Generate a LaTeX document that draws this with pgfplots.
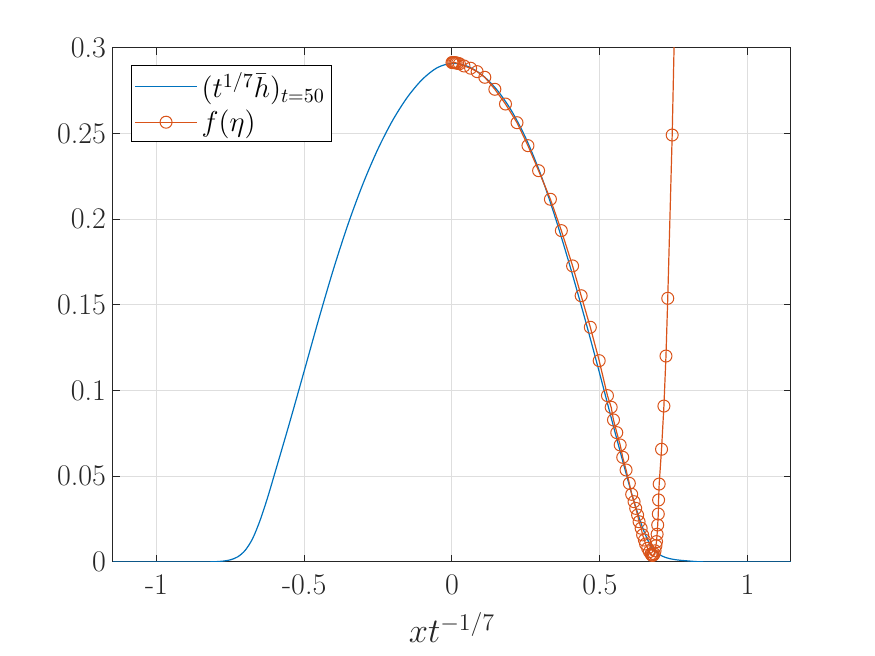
\documentclass[border=0pt]{standalone}
\usepackage{pgfplots}
\pgfplotsset{compat=1.18}
\definecolor{mblue}{rgb}{0,0.447,0.741}
\definecolor{morange}{rgb}{0.85,0.325,0.098}
\definecolor{axgray}{rgb}{0.15,0.15,0.15}
\begin{document}
\begin{tikzpicture}
\begin{axis}[
  scale only axis, width=339pt, height=257pt,
  xmin=-1.147, xmax=1.147, ymin=0, ymax=0.3,
  xtick={-1,-0.5,0,0.5,1}, xticklabels={-1,-0.5,0,0.5,1},
  ytick={0,0.05,0.1,0.15,0.2,0.25,0.3}, yticklabels={0,0.05,0.1,0.15,0.2,0.25,0.3},
  tick align=inside, major tick length=3.3pt,
  axis line style={axgray, line width=0.5pt},
  tick style={axgray, line width=0.5pt},
  grid=major, grid style={line width=0.5pt, draw=black!13},
  tick label style={font=\fontsize{15}{18}\selectfont, text=axgray},
  xticklabel style={yshift=-3pt},
  xlabel={$xt^{-1/7}$},
  xlabel style={at={(axis description cs:0.5,0)}, anchor=base, yshift=-40.5pt, font=\fontsize{16.5}{20}\selectfont, text=axgray},
  legend cell align=left,
  legend style={at={(rel axis cs:0.0265,0.967)}, anchor=north west, draw=black, line width=0.5pt,
    font=\fontsize{14.5}{17.5}\selectfont, inner sep=1.5pt, row sep=0.5pt},
  legend image code/.code={\draw[mark repeat=2,mark phase=2,#1] plot coordinates {(0pt,0pt) (15.5pt,0pt) (31pt,0pt)};},
]
\addplot[mblue, line width=0.6pt, smooth, tension=0.5] coordinates {
(-1.147,0) (-0.90,0) (-0.86,0) (-0.83,0.00003) (-0.80,0.00018) (-0.775,0.0005) (-0.75,0.00125)
(-0.725,0.003) (-0.70,0.00675) (-0.675,0.0135) (-0.65,0.024) (-0.625,0.037) (-0.60,0.0515)
(-0.55,0.081) (-0.50,0.1115) (-0.45,0.14225) (-0.40,0.1715) (-0.35,0.198) (-0.30,0.22125)
(-0.25,0.24125) (-0.20,0.258) (-0.15,0.2715) (-0.10,0.28175) (-0.05,0.2885) (0,0.2910)
(0.05,0.2895) (0.10,0.2845) (0.15,0.276) (0.20,0.26375) (0.25,0.24725) (0.30,0.22625)
(0.35,0.20075) (0.40,0.17225) (0.45,0.14175) (0.50,0.10975) (0.55,0.07675) (0.60,0.04475)
(0.625,0.03025) (0.65,0.01775) (0.675,0.00875) (0.70,0.0045) (0.725,0.0025) (0.75,0.0015)
(0.775,0.00095) (0.80,0.0006) (0.83,0.0002) (0.87,0) (0.90,0) (1.147,0)
};
\addlegendentry{$(t^{1/7}\bar{h})_{t=50}$}
\addplot[morange, line width=0.6pt, mark=o, mark size=3pt, mark options={solid, line width=0.5pt}] coordinates {
(0,0.2915) (0.003,0.2915) (0.006,0.2915) (0.010,0.2914) (0.014,0.2913) (0.019,0.2911) (0.025,0.2908)
(0.0405,0.2895) (0.063,0.2882) (0.085,0.2862) (0.111,0.2829) (0.145,0.2759) (0.181,0.2673)
(0.220,0.2564) (0.257,0.2430) (0.293,0.2284) (0.333,0.2117) (0.370,0.1934) (0.408,0.1728)
(0.437,0.1554) (0.468,0.1370) (0.498,0.1175) (0.526,0.0971) (0.5386,0.0903) (0.5464,0.0829)
(0.5575,0.0755) (0.569,0.0683) (0.5777,0.0611) (0.589,0.0537) (0.600,0.0459) (0.608,0.0395)
(0.616,0.0352) (0.6216,0.0313) (0.628,0.0274) (0.633,0.0235) (0.640,0.0197) (0.645,0.0158)
(0.651,0.0128) (0.655,0.0105) (0.662,0.008) (0.668,0.006) (0.6735,0.0047) (0.6756,0.0041)
(0.678,0.0038) (0.681,0.0040) (0.684,0.0048) (0.687,0.0065) (0.690,0.0095) (0.692,0.0119)
(0.694,0.0162) (0.696,0.0216) (0.698,0.028) (0.699,0.0362) (0.701,0.0455) (0.709,0.0658)
(0.717,0.091) (0.724,0.1202) (0.730,0.1539) (0.745,0.2492) (0.760,0.37)
};
\addlegendentry{$f(\eta)$}
\end{axis}
\pgfresetboundingbox
\useasboundingbox (-56.5pt,-47pt) rectangle (381pt,281pt);
\end{tikzpicture}
\end{document}
